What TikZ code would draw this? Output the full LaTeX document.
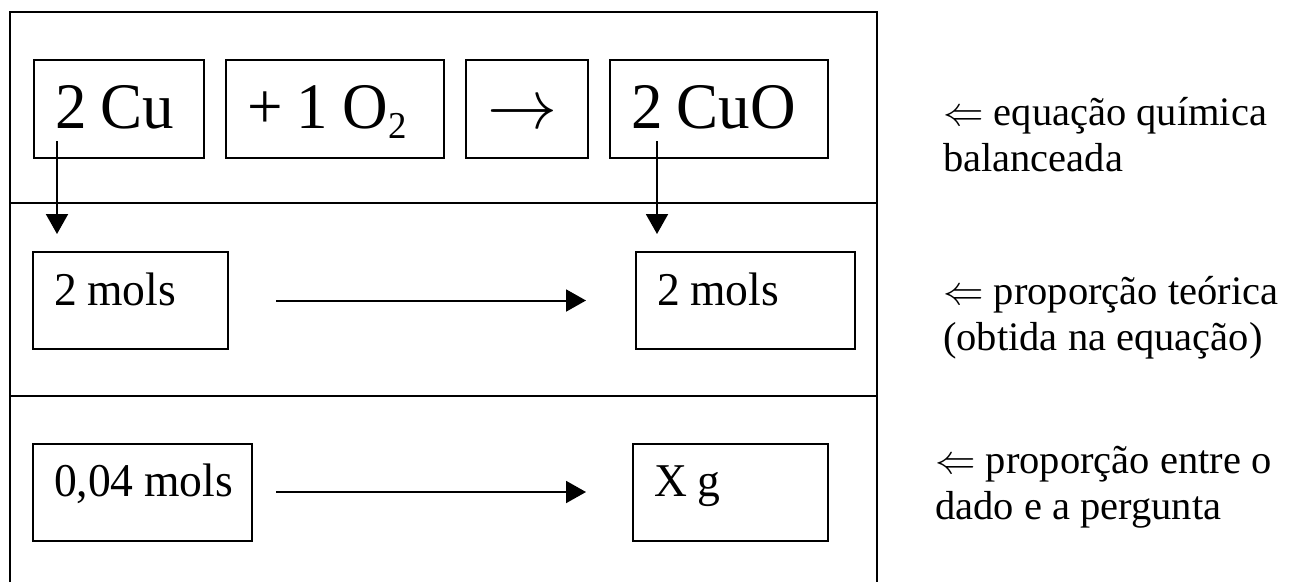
\RequirePackage{fix-cm}
\documentclass[tikz,border=0pt]{standalone}
\usepackage{fontspec}
\setmainfont{Liberation Serif}
\newfontfamily\cellfont{Liberation Serif}[FakeStretch=0.97]
\usetikzlibrary{arrows.meta}
% narrower interword space inside the boxes
\DeclareRobustCommand\tightwords{\spaceskip=0.22em\relax}

\begin{document}
\begin{tikzpicture}[x=1pt,y=-1pt,
  cell/.style={draw, line width=2pt, inner xsep=21pt, inner ysep=0pt, align=left, execute at begin node=\tightwords},
  rowbig/.style={cell, minimum height=98pt, font=\cellfont\fontsize{65}{72}\selectfont, text height=44pt, text depth=6pt},
  rowsmall/.style={cell, minimum height=97pt, font=\cellfont\fontsize{47}{54}\selectfont, text height=33pt, text depth=24pt},
  arr/.style={line width=2pt, -{Triangle[length=20pt,width=22pt]}},
  note/.style={font=\fontsize{40.5}{46}\selectfont, align=left, anchor=base west, inner sep=0pt},
  outline/.style={line width=2.5pt}]

\useasboundingbox (0,0) rectangle (1292,582);

% outer frame and row separators
\draw[outline] (10,582) -- (10,12) -- (877,12) -- (877,582);
\draw[outline] (10,203) -- (877,203);
\draw[outline] (10,396) -- (877,396);

% balanced equation
\node[rowbig, text width=128pt] (cu)  at (119,109) {\mbox{2 Cu}};
\node[rowbig, text width=176pt] (o2)  at (335,109) {\mbox{+ 1 O\raisebox{-10pt}{\fontsize{38}{40}\selectfont 2}}};
\node[rowbig, text width=80pt]  (ar)  at (527,109) {\mbox{\fontsize{70}{72}\selectfont$\rightarrow$}};
\node[rowbig, text width=176pt] (cuo) at (719,109) {\mbox{2 CuO}};

% theoretical proportion
\node[rowsmall, text width=153pt] (m1) at (130.5,300.5) {\mbox{2 mols}};
\node[rowsmall, text width=177pt] (m2) at (745.5,300.5) {\mbox{2 mols}};

% data and question
\node[rowsmall, text width=177pt] (g1) at (142.5,492) {\mbox{0,04 mols}};
\node[rowsmall, text width=153pt] (g2) at (730.5,492) {\mbox{X g}};

% connectors
\draw[arr] ([shift={(24,-18)}]cu.south west)  -- ([shift={(25,-17)}]m1.north west);
\draw[arr] ([shift={(48,-18)}]cuo.south west) -- ([shift={(22,-17)}]m2.north west);
\draw[arr] ([xshift=47pt]m1.east) -- ([xshift=-49pt]m2.west);
\draw[arr] ([xshift=23pt]g1.east) -- ([xshift=-46pt]g2.west);

% side notes (anchored on the baseline of the last line)
\node[note] (n1) at (943,171) {$\Leftarrow$ equação química\\balanceada};
\node[note] (n2) at (943,350) {$\Leftarrow$ proporção teórica\\(obtida na equação)};
\node[note] (n3) at (935,519) {$\Leftarrow$ proporção entre o\\dado e a pergunta};
\end{tikzpicture}
\end{document}
